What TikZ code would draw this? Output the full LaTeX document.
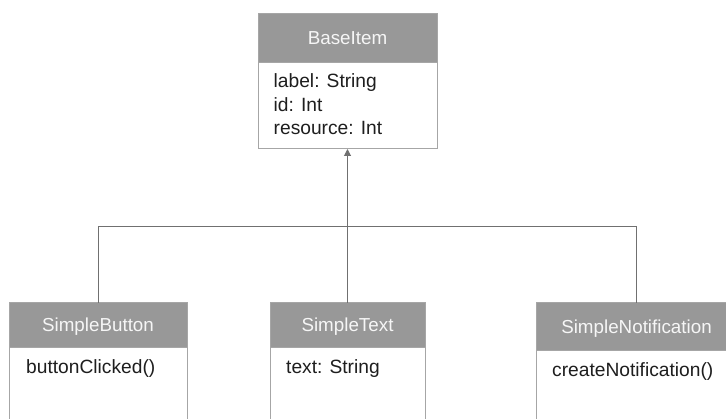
\documentclass[tikz,border=0pt]{standalone}
\usepackage{fontspec}
\setmainfont{Liberation Sans}
\usetikzlibrary{arrows.meta}
\definecolor{hdrfill}{HTML}{989898}
\definecolor{boxline}{HTML}{A6A6A6}
\definecolor{wire}{HTML}{707070}
\definecolor{ink}{HTML}{1E1E1E}
\definecolor{hdrtext}{HTML}{F6F6F6}
\tikzset{
  hdr/.style={draw=boxline, fill=hdrfill, line width=1pt, anchor=north west,
              inner sep=0pt, outer sep=0pt},
  bodybox/.style={draw=boxline, fill=white, line width=1pt, anchor=north west,
              inner sep=0pt, outer sep=0pt},
  title/.style={text=hdrtext, anchor=base, inner sep=0pt,
              font=\fontsize{18.8}{22}\selectfont},
  attr/.style={text=ink, anchor=base west, inner sep=0pt,
              font=\fontsize{19.2}{22}\selectfont},
  wireline/.style={draw=wire, line width=1pt},
}
\begin{document}
\begin{tikzpicture}[x=1pt, y=-1pt]
\useasboundingbox (0,0) rectangle (726,419);

% BaseItem
\node[hdr, minimum width=179pt, minimum height=48.5pt] (baseH) at (258,14) {};
\node[bodybox, minimum width=179pt, minimum height=86.5pt] (baseB) at (258,62.5) {};
\node[title] (baseT) at (347.5,44.3) {BaseItem};
\node[attr] (baseA1) at (273.5,88) {label: String};
\node[attr] (baseA2) at (273.5,111.3) {id: Int};
\node[attr] (baseA3) at (273.5,134.3) {resource: Int};

% SimpleButton
\node[bodybox, minimum width=178pt, minimum height=130pt] (btnB) at (9,303) {};
\node[hdr, minimum width=178pt, minimum height=45pt] (btnH) at (9,303) {};
\node[title] (btnT) at (98,332) {SimpleButton};
\node[attr] (btnA1) at (26,373.3) {buttonClicked()};

% SimpleText
\node[bodybox, minimum width=155pt, minimum height=130pt] (txtB) at (270,303) {};
\node[hdr, minimum width=155pt, minimum height=45pt] (txtH) at (270,303) {};
\node[title] (txtT) at (347.5,332) {SimpleText};
\node[attr] (txtA1) at (286,373.3) {text: String};

% SimpleNotification
\node[bodybox, minimum width=201pt, minimum height=130pt] (ntfB) at (536,303) {};
\node[hdr, minimum width=201pt, minimum height=48pt] (ntfH) at (536,303) {};
\node[title] (ntfT) at (636.5,333.5) {SimpleNotification};
\node[attr] (ntfA1) at (552,377) {createNotification()};

% Inheritance connectors
\coordinate (bus) at (347.5,226.5);
\draw[wireline] (btnH.north) |- (bus) -| (ntfH.north);
\draw[wireline, -{Triangle[width=7pt,length=7pt]}] (txtH.north) -- (baseB.south -| txtH.north);
\end{tikzpicture}
\end{document}
